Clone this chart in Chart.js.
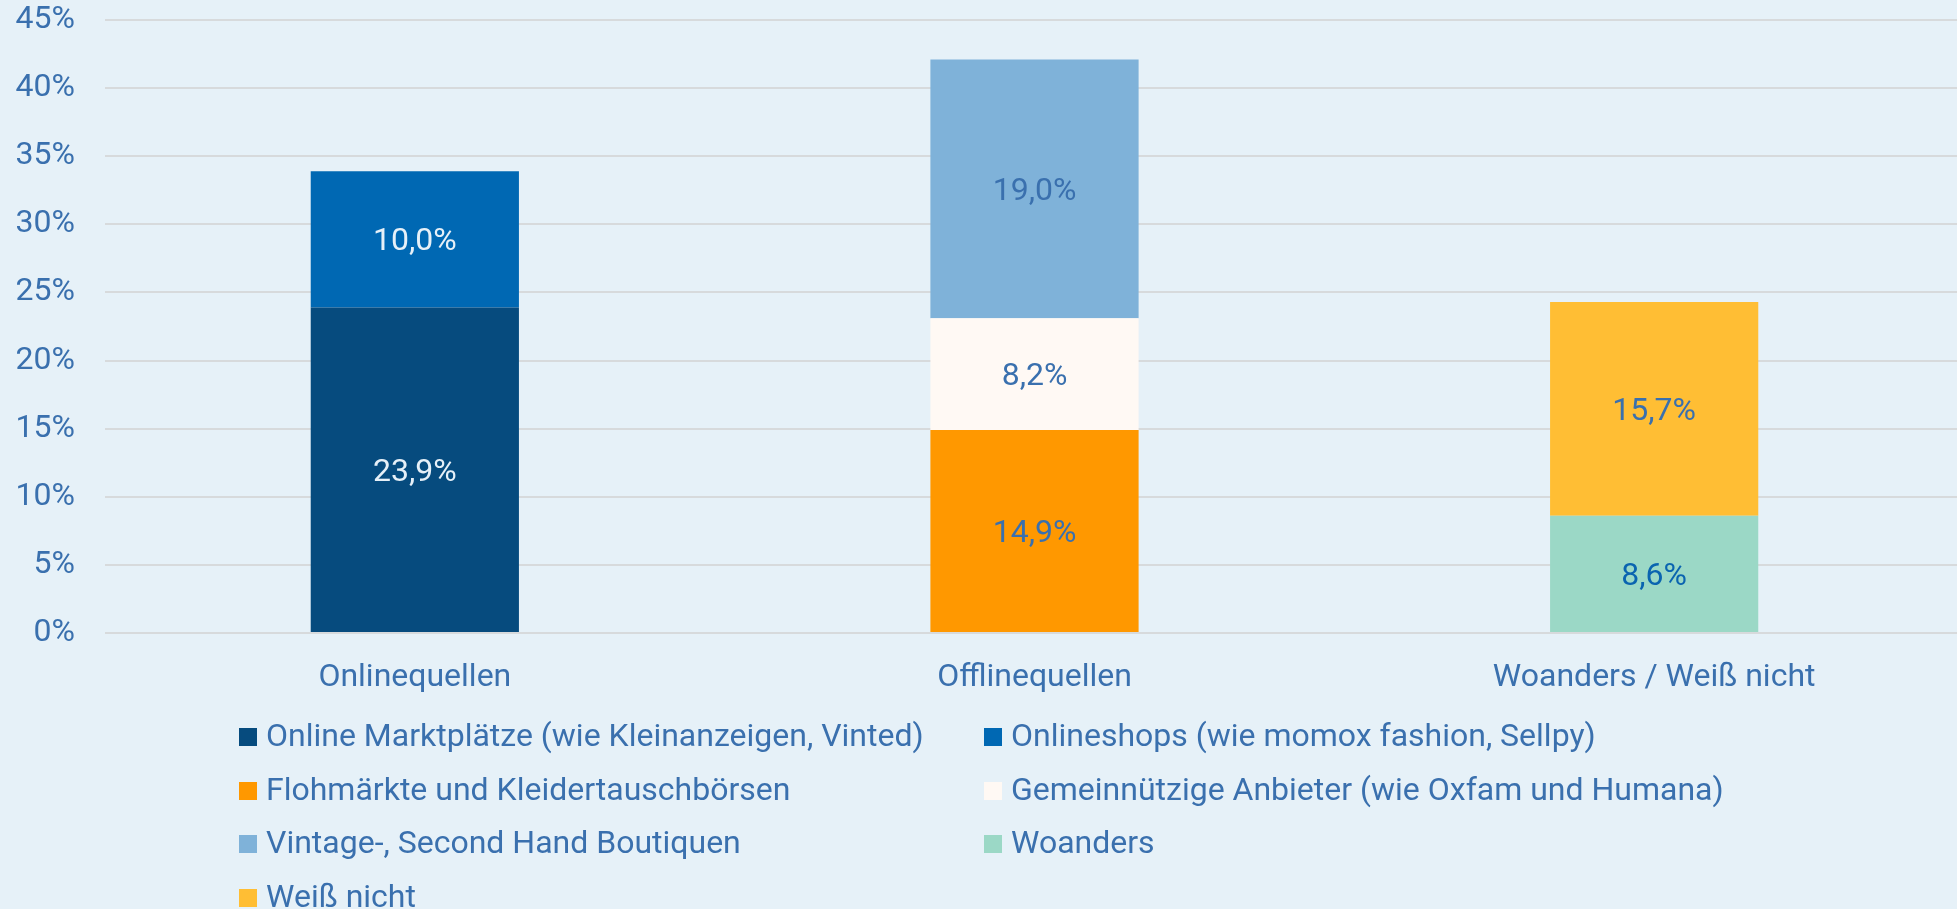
<!DOCTYPE html>
<html>
<head>
<meta charset="utf-8">
<script src="https://cdn.jsdelivr.net/npm/chart.js@4"></script>
<style>
  html, body { margin: 0; padding: 0; background: #e6f1f8; overflow: hidden; }
  body { width: 1957px; height: 909px; position: relative; font-family: Roboto, sans-serif; }
  #wrap { position: absolute; left: 0; top: 0; width: 1964px; height: 701px; }
  #legend { position: absolute; left: 0; top: 0; width: 1957px; height: 909px; pointer-events: none; }
  .item { position: absolute; height: 38px; line-height: 38px; font-size: 32px; color: #3a70ae; white-space: nowrap; }
  .box { position: absolute; left: 0; top: 12px; width: 18px; height: 18px; }
  .txt { position: absolute; top: 0; }
</style>
</head>
<body>
<div id="wrap"><canvas id="chart"></canvas></div>
<div id="legend"></div>
<script>
// categories + series
const categories = ['Onlinequellen', 'Offlinequellen', 'Woanders / Weiß nicht'];
const seriesNames = [
  'Online Marktplätze (wie Kleinanzeigen, Vinted)',
  'Onlineshops (wie momox fashion, Sellpy)',
  'Flohmärkte und Kleidertauschbörsen',
  'Gemeinnützige Anbieter (wie Oxfam und Humana)',
  'Vintage-, Second Hand Boutiquen',
  'Woanders',
  'Weiß nicht'
];
const onlineMarkt = [23.9, 0, 0];
const onlineShops = [10.0, 0, 0];
const flohmaerkte = [0, 14.9, 0];
const gemeinnuetzig = [0, 8.2, 0];
const vintage = [0, 19.0, 0];
const woanders = [0, 0, 8.6];
const weissNicht = [0, 0, 15.7];
const yTicks = [0, 5, 10, 15, 20, 25, 30, 35, 40, 45];

const colors = ['#064b7e', '#0068b3', '#ff9800', '#fff9f4', '#7fb2d9', '#9bd8c6', '#ffbe34'];
const labelColors = ['#e6f0f8', '#e6f0f8', '#3a70ae', '#3a70ae', '#3a70ae', '#0a64b0', '#3a70ae'];
const seriesValues = [onlineMarkt, onlineShops, flohmaerkte, gemeinnuetzig, vintage, woanders, weissNicht];

const textColor = '#3a70ae';
const fmt = v => v.toFixed(1).replace('.', ',') + '%';

// bar labels in the middle of each segment
const barLabels = {
  id: 'barLabels',
  afterDatasetsDraw(chart) {
    const ctx = chart.ctx;
    ctx.save();
    ctx.font = '32px Roboto';
    ctx.textAlign = 'center';
    ctx.textBaseline = 'middle';
    chart.data.datasets.forEach((ds, i) => {
      const meta = chart.getDatasetMeta(i);
      meta.data.forEach((bar, j) => {
        const v = ds.data[j];
        if (!v) return;
        ctx.fillStyle = labelColors[i];
        ctx.fillText(fmt(v), bar.x, (bar.y + bar.base) / 2 + 3);
      });
    });
    ctx.restore();
  }
};

const ctx = document.getElementById('chart').getContext('2d');
new Chart(ctx, {
  type: 'bar',
  data: {
    labels: categories,
    datasets: seriesNames.map((name, i) => ({
      label: name,
      data: seriesValues[i],
      backgroundColor: colors[i],
      borderWidth: 0,
      barPercentage: 1,
      categoryPercentage: 0.336
    }))
  },
  options: {
    responsive: true,
    maintainAspectRatio: false,
    animation: false,
    layout: { padding: { top: 20, left: 0, right: 0, bottom: 0 } },
    plugins: { legend: { display: false }, tooltip: { enabled: false } },
    scales: {
      x: {
        stacked: true,
        grid: { display: false, drawTicks: false },
        border: { display: false },
        ticks: { color: textColor, font: { family: 'Roboto', size: 32 }, padding: 26, maxRotation: 0 },
        afterFit(scale) { scale.height = 68; scale.paddingLeft = 0; scale.paddingRight = 0; }
      },
      y: {
        stacked: true,
        min: 0,
        max: 45,
        afterBuildTicks(scale) { scale.ticks = yTicks.map(v => ({ value: v })); },
        grid: { color: '#d7dadc', lineWidth: 2, drawTicks: false },
        border: { display: false },
        ticks: {
          color: textColor,
          font: { family: 'Roboto', size: 32 },
          padding: 30,
          callback: v => v + '%'
        },
        afterFit(scale) { scale.width = 105; scale.paddingTop = 0; scale.paddingBottom = 0; }
      }
    }
  },
  plugins: [barLabels]
});

// legend, two columns
const legend = document.getElementById('legend');
const colX = [239, 984];
const rowTop = [716, 770, 823, 877];
seriesNames.forEach((name, i) => {
  const item = document.createElement('div');
  item.className = 'item';
  item.style.left = colX[i % 2] + 'px';
  item.style.top = rowTop[Math.floor(i / 2)] + 'px';
  item.innerHTML = '<span class="box" style="background:' + colors[i] + '"></span><span class="txt" style="left:27px">' + name + '</span>';
  legend.appendChild(item);
});
</script>
</body>
</html>
